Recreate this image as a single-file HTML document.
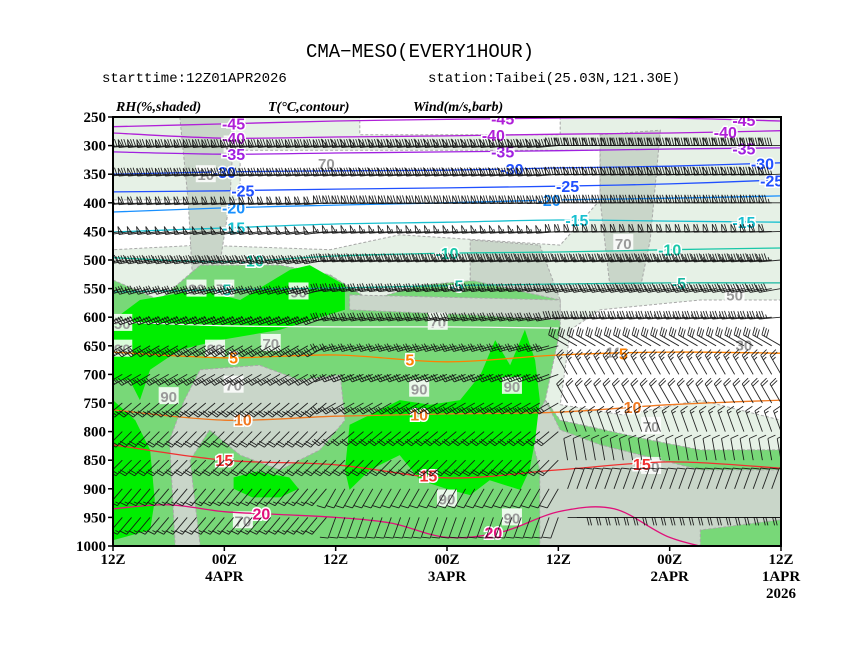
<!DOCTYPE html>
<html><head><meta charset="utf-8"><style>
html,body{margin:0;padding:0;background:#fff;}
svg{display:block;font-family:"Liberation Serif",serif;}
</style></head><body>
<svg id="chart" width="860" height="664" viewBox="0 0 860 664">
<text x="420" y="57" text-anchor="middle" font-family="Liberation Mono, monospace" font-size="19">CMA−MESO(EVERY1HOUR)</text>
<text x="102" y="82" font-family="Liberation Mono, monospace" font-size="14">starttime:12Z01APR2026</text>
<text x="428" y="82" font-family="Liberation Mono, monospace" font-size="14">station:Taibei(25.03N,121.30E)</text>
<text x="116" y="111" font-size="14" font-weight="bold" font-style="italic">RH(%,shaded)</text>
<text x="268" y="111" font-size="14" font-weight="bold" font-style="italic">T(°C,contour)</text>
<text x="413" y="111" font-size="14" font-weight="bold" font-style="italic">Wind(m/s,barb)</text>
<defs><clipPath id="plotclip"><rect x="113" y="117" width="668" height="429"/></clipPath></defs>
<g id="plot" clip-path="url(#plotclip)"></g>
<g id="axes"></g>
</svg>
<script>
// ---- data ----
const pressureTicks = [250,300,350,400,450,500,550,600,650,700,750,800,850,900,950,1000];
const timeTickHours = [72,60,48,36,24,12,0];
const timeTickLabels = ["12Z","00Z","12Z","00Z","12Z","00Z","12Z"];
const timeTickDates = ["","4APR","","3APR","","2APR","1APR"];
const contourHours = [72,60,48,36,24,12,0];
const isoValues = [-45,-40,-35,-30,-25,-20,-15,-10,-5,5,10,15];
const isoM45 = [267,262,257,254,252,252,257];
const isoM40 = [278,287,285,283,280,278,274];
const isoM35 = [311,315,313,311,309,306,304];
const isoM30 = [350,346,344,343,339,336,330];
const isoM25 = [381,379,376,374,371,367,360];
const isoM20 = [416,409,404,400,395,392,388];
const isoM15 = [451,444,437,434,430,432,434];
const isoM10 = [496,503,493,488,486,482,479];
const isoM5 = [556,552,549,545,542,540,540];
const iso5 = [661,671,666,678,666,661,663];
const iso10 = [762,780,773,769,766,753,745];
const iso15 = [823,850,858,881,867,853,864];
const iso20Hours = [72,66,60,54,48,42,36,30,24,18,12,6];
const iso20 = [935,928,940,945,950,960,985,975,940,935,985,1010];
const iso0Hours = [72,60,48,36,24];
const iso0 = [608,615,617,617,619];
const isoColors = ["#b020d8","#b020d8","#a020e0","#2050ff","#2050ff","#1890ff","#18c0d0","#18c8a8","#18b8a0","#ff8000","#f07820","#f03030"];
// RH shaded regions, [hour, hPa] pairs
const rhPale = [[72,250],[0,250],[0,1000],[72,1000]];
const rhWhite1 = [[58.3,308],[19.5,308],[19.5,395],[23.8,474],[41.1,456],[48.6,482],[62.6,474],[72,482],[72,395],[58.3,395]];
const rhWhite2 = [[45.4,250],[23.8,250],[23.8,281],[45.4,281]];
const rhWhite3 = [[22.7,622],[19.5,587],[8.7,570],[0,570],[0,780],[8.7,745],[17,771],[23.8,753]];
const rhMid = [[72,535],[67,570],[62.6,509],[54,509],[48.6,526],[44.3,570],[38.9,544],[32.4,535],[27.1,517],[23.8,570],[23.8,622],[25.4,745],[23.8,780],[14,815],[8.7,832],[0,832],[0,1000],[72,1000]];
const rhGray1 = [[25.4,745],[23.8,797],[19.5,823],[8.7,867],[0,867],[0,954],[8.7,972],[8.7,1000],[26,1000],[26,867],[27.1,797]];
const rhGray2 = [[62.6,692],[56.2,684],[51.9,710],[47.5,701],[47,780],[49.7,832],[54,867],[58.3,841],[61.6,797],[63.7,850],[62.6,1000],[65.3,1000],[65.9,815],[64.3,745]];
const rhGray3 = [[46.5,561],[23.8,570],[23.8,605],[33.5,596],[46.5,587]];
const rhGray4 = [[33.5,465],[26,474],[23.8,570],[33.5,535]];
const rhGray5 = [[64.8,250],[58.9,250],[59.4,395],[61.1,570],[63.3,570],[63.9,395]];
const rhGray6 = [[19.5,281],[13,273],[14.1,465],[15.2,552],[18.4,552],[19.5,395]];
const rhBright1 = [[72,605],[69.1,570],[62.6,552],[58.3,570],[52.9,517],[50.8,509],[47,544],[47,587],[54,622],[60.5,640],[64.8,657],[68,692],[69.1,745],[70.2,710],[72,710]];
const rhBright2 = [[72,745],[69.6,780],[68,832],[67.5,920],[68,972],[72,990]];
const rhBright3 = [[47,867],[46.5,788],[43.2,762],[41.1,745],[37.8,753],[34.6,745],[32.4,701],[30.8,640],[29.2,684],[27.6,622],[26.5,675],[26,745],[26.5,815],[27.1,867],[28.1,902],[31.4,885],[33.5,911],[35.7,902],[38.9,885],[41.1,841],[44.3,867],[46.5,902]];
const rhBright4 = [[56.5,870],[53,880],[52,900],[54,915],[57,915],[59,900],[59,880]];
const rhLabelHours = [63,60,52,71,71,61,55,66,59,39,29,37,59,49,17,5,18,4,14,58,36,29,14,62];
const rhLabelPres = [550,550,555,610,655,655,645,738,718,725,720,608,298,330,470,560,660,648,790,955,917,950,860,350];
const rhLabelText = ["90","70","90","50","90","90","70","90","70","90","90","70","30","70","70","50","10","30","70","70","90","90","70","10"];
// wind barbs
const barbLevels = [300,350,400,450,500,550,600,650,700,750,800,850,900,950,1000];
const barbDirLeft = [265,265,265,262,260,255,250,240,240,230,225,225,220,220,200];
const barbDirMid = [265,265,268,265,265,262,260,255,250,240,230,225,210,200,180];
const barbDirRight = [270,268,270,268,265,260,265,300,330,330,340,350,20,90,90];
const barbSpeedLeft = [30,28,24,20,16,14,12,12,10,10,9,9,7,6,5];
const barbSpeedMid = [34,32,28,22,18,14,12,10,10,10,9,8,5,4,3];
const barbSpeedRight = [36,34,30,24,18,16,14,12,10,8,6,5,4,8,8];

// ---- axes ----
const X0=113,X1=781,Y0=117,Y1=546;
const xs = h => X1 - h/72*(X1-X0);
const ys = p => Y0 + (p-250)/750*(Y1-Y0);
const NS="http://www.w3.org/2000/svg";
const plot=document.getElementById('plot'), axes=document.getElementById('axes');
function mk(tag,attrs,parent){const e=document.createElementNS(NS,tag);for(const k in attrs)e.setAttribute(k,attrs[k]);parent.appendChild(e);return e;}

function poly(pts,fill,name,dashed){
  const e=mk('polygon',{points:pts.map(q=>xs(q[0]).toFixed(1)+','+ys(q[1]).toFixed(1)).join(' '),fill:fill,stroke:dashed?'#a8a8a8':'none','stroke-width':dashed?1:0,'stroke-dasharray':'3,2'},plot);
  
  
}
poly(rhPale,'#e6f1e6','rh-region-pale');
poly(rhWhite1,'#ffffff','rh-region-dry-1',true);
poly(rhWhite2,'#ffffff','rh-region-dry-2',true);
poly(rhGray5,'#c9d6c9','rh-region-gray-5',true);
poly(rhGray6,'#c9d6c9','rh-region-gray-6',true);
poly(rhMid,'#78d878','rh-region-moist',true);
poly(rhWhite3,'#ffffff','rh-region-dry-3',true);
poly(rhGray1,'#c9d6c9','rh-region-gray-1',true);
poly(rhGray2,'#c9d6c9','rh-region-gray-2',true);
poly(rhGray3,'#c9d6c9','rh-region-gray-3',true);
poly(rhGray4,'#c9d6c9','rh-region-gray-4',true);
poly(rhBright1,'#00ee00','rh-region-saturated-1');
poly(rhBright2,'#00ee00','rh-region-saturated-2');
poly(rhBright3,'#00ee00','rh-region-saturated-3');
poly(rhBright4,'#00ee00','rh-region-saturated-4');

function splinePath(hrs,vals){
  const P=hrs.map((h,i)=>[xs(h),ys(vals[i])]);
  let d='M'+P[0][0].toFixed(1)+','+P[0][1].toFixed(1);
  for(let i=0;i<P.length-1;i++){
    const p0=P[Math.max(0,i-1)],p1=P[i],p2=P[i+1],p3=P[Math.min(P.length-1,i+2)];
    const c1=[p1[0]+(p2[0]-p0[0])/6,p1[1]+(p2[1]-p0[1])/6],c2=[p2[0]-(p3[0]-p1[0])/6,p2[1]-(p3[1]-p1[1])/6];
    d+=' C'+c1.map(v=>v.toFixed(1)).join(',')+' '+c2.map(v=>v.toFixed(1)).join(',')+' '+p2[0].toFixed(1)+','+p2[1].toFixed(1);
  }
  return d;
}
function interp(hrs,vals,h){
  for(let i=0;i<hrs.length-1;i++){const a=hrs[i],b=hrs[i+1];if((h<=a&&h>=b)){const t=(a-h)/(a-b);return vals[i]+t*(vals[i+1]-vals[i]);}}
  return vals[vals.length-1];
}
// RH labels
rhLabelHours.forEach((h,i)=>{
  const g=mk('g',{},plot);
  
  
  mk('rect',{x:xs(h)-10,y:ys(rhLabelPres[i])-9,width:20,height:17,fill:'#ffffff',opacity:0.85},g);
  const t=mk('text',{x:xs(h),y:ys(rhLabelPres[i])+6,'text-anchor':'middle','font-size':15,'font-weight':'bold','font-family':'Liberation Sans, sans-serif',fill:'#9a9a9a'},g);
  t.textContent=rhLabelText[i];
});

// isotherms
const isoSeries=[isoM45,isoM40,isoM35,isoM30,isoM25,isoM20,isoM15,isoM10,isoM5,iso5,iso10,iso15];
const isoLabelHours=[[59,30,4],[59,31,6],[59,30,4],[60,29,2],[58,23,1],[59,25],[59,22,4],[57,36,12],[60,35,11],[59,40,17],[58,39,16],[60,38,15]];
function drawIso(hrs,vals,color,val,labelHrs){
  const p=mk('path',{d:splinePath(hrs,vals),fill:'none',stroke:color,'stroke-width':1.3},plot);
  
  
  labelHrs.forEach(h=>{
    const t=mk('text',{x:xs(h),y:ys(interp(hrs,vals,h))+6,'text-anchor':'middle','font-size':16,'font-weight':'bold','font-family':'Liberation Sans, sans-serif',fill:color,stroke:'#fff','stroke-width':3,'paint-order':'stroke'},plot);
    
    
    t.textContent=String(val);
  });
}
isoSeries.forEach((s,i)=>drawIso(contourHours,s,isoColors[i],isoValues[i],isoLabelHours[i]));
drawIso(iso0Hours,iso0,'#f4f4f4',0,[]);
drawIso(iso20Hours,iso20,'#e0107a',20,[56,31]);

// wind barbs
function barb(x,y,dir,spd,g){
  const r=dir*Math.PI/180, sx=Math.sin(r), sy=-Math.cos(r);
  const L=22, tx=x+sx*L, ty=y+sy*L, px=-sy, py=sx;
  let d='M'+x.toFixed(1)+','+y.toFixed(1)+' L'+tx.toFixed(1)+','+ty.toFixed(1);
  let s=spd, pos=0;
  while(s>=20){const bx=tx-sx*pos,by=ty-sy*pos;d+=' M'+bx.toFixed(1)+','+by.toFixed(1)+' L'+(bx+px*8).toFixed(1)+','+(by+py*8).toFixed(1)+' L'+(bx-sx*4).toFixed(1)+','+(by-sy*4).toFixed(1);s-=20;pos+=5;}
  while(s>=4){const bx=tx-sx*pos,by=ty-sy*pos;d+=' M'+bx.toFixed(1)+','+by.toFixed(1)+' l'+(px*8+sx*2).toFixed(1)+','+(py*8+sy*2).toFixed(1);s-=4;pos+=2.6;}
  if(s>=2){if(pos===0)pos=2.6;const bx=tx-sx*pos,by=ty-sy*pos;d+=' M'+bx.toFixed(1)+','+by.toFixed(1)+' l'+(px*4+sx*1).toFixed(1)+','+(py*4+sy*1).toFixed(1);}
  const e=mk('path',{d:d,fill:'none',stroke:'#111','stroke-width':0.9,'stroke-opacity':0.9},g);
  
  
}
barbLevels.forEach((p,li)=>{
  const g=mk('g',{},plot);
  
  
  for(let h=0;h<=72;h++){
    const dir=h>48?barbDirLeft[li]:(h>=24?barbDirMid[li]:barbDirRight[li]);
    const spd=h>48?barbSpeedLeft[li]:(h>=24?barbSpeedMid[li]:barbSpeedRight[li]);
    barb(xs(h),ys(p),dir,spd,g);
  }
});

// frame and ticks
const fr=mk('rect',{x:X0,y:Y0,width:X1-X0,height:Y1-Y0,fill:'none',stroke:'#000','stroke-width':2},axes);


pressureTicks.forEach(p=>{
  mk('line',{x1:X0-5,y1:ys(p),x2:X0,y2:ys(p),stroke:'#000','stroke-width':1.5},axes);
  const t=mk('text',{x:X0-7,y:ys(p)+5,'text-anchor':'end','font-size':15,'font-weight':'bold'},axes);
  
  
  t.textContent=String(p);
});
timeTickHours.forEach((h,i)=>{
  mk('line',{x1:xs(h),y1:Y1,x2:xs(h),y2:Y1+5,stroke:'#000','stroke-width':1.5},axes);
  const t=mk('text',{x:xs(h),y:Y1+18,'text-anchor':'middle','font-size':15,'font-weight':'bold'},axes);
  
  
  t.textContent=timeTickLabels[i];
  if(timeTickDates[i]){
    const d=mk('text',{x:xs(h),y:Y1+35,'text-anchor':'middle','font-size':15,'font-weight':'bold'},axes);
    
    
    d.textContent=timeTickDates[i];
  }
});
const yr=mk('text',{x:xs(0),y:Y1+52,'text-anchor':'middle','font-size':15,'font-weight':'bold'},axes);


yr.textContent='2026';
</script>
</body></html>
